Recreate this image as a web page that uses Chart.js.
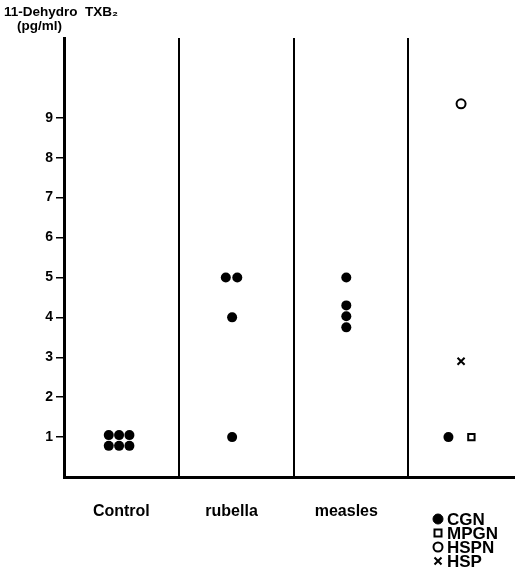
<!DOCTYPE html>
<html>
<head>
<meta charset="utf-8">
<script src="https://cdn.jsdelivr.net/npm/chart.js@4/dist/chart.umd.min.js"></script>
<style>
html,body{margin:0;padding:0;background:#fff;}
#wrap{width:515px;height:573px;position:relative;}
</style>
</head>
<body>
<div id="wrap"><canvas id="c" width="515" height="573"></canvas></div>
<script>
// ---- data ----
const categories = ['Control', 'rubella', 'measles', ''];
const yTicks = [1, 2, 3, 4, 5, 6, 7, 8, 9];
const yMax = 11;

const controlCGN = [1.05, 1.05, 1.05, 0.78, 0.78, 0.78];
const rubellaCGN = [5.0, 5.0, 4.0, 1.0];
const measlesCGN = [5.0, 4.3, 4.03, 3.75];
const nephritisCGN = [1.0];
const nephritisMPGN = [1.0];
const nephritisHSPN = [9.35];
const nephritisHSP = [2.9];

// horizontal offsets of the dots inside their group (jitter)
const controlOffsets = [-0.11, -0.02, 0.07, -0.11, -0.02, 0.07];
const rubellaOffsets = [-0.09, 0.01, -0.035, -0.035];
const measlesOffsets = [-0.04, -0.04, -0.04, -0.04];
const nephritisCGNOffsets = [-0.15];
const nephritisMPGNOffsets = [0.05];
const nephritisHSPNOffsets = [-0.04];
const nephritisHSPOffsets = [-0.04];

const legendLabels = ['CGN', 'MPGN', 'HSPN', 'HSP'];

function pts(groupIndex, values, offsets) {
  return values.map((v, i) => ({ x: groupIndex + 0.5 + offsets[i], y: v }));
}

const cgnData = []
  .concat(pts(0, controlCGN, controlOffsets))
  .concat(pts(1, rubellaCGN, rubellaOffsets))
  .concat(pts(2, measlesCGN, measlesOffsets))
  .concat(pts(3, nephritisCGN, nephritisCGNOffsets));

const FONT = '"Liberation Sans", Arial, Helvetica, sans-serif';
const labelShift = [0, -0.04, -0.04];

const markerStyles = [
  { pointStyle: 'circle', radius: 5, fill: '#000', lw: 1 },
  { pointStyle: 'rect', radius: 4.5, fill: '#fff', lw: 2 },
  { pointStyle: 'circle', radius: 4.5, fill: '#fff', lw: 2 },
  { pointStyle: 'crossRot', radius: 5, fill: '#000', lw: 2 }
];

const textPlugin = {
  id: 'textPlugin',
  afterDraw(chart) {
    const ctx = chart.ctx;
    ctx.save();
    ctx.fillStyle = '#000';
    ctx.textBaseline = 'middle';
    ctx.textAlign = 'left';
    ctx.font = 'bold 13.5px ' + FONT;
    ctx.fillText('11-Dehydro  TXB\u2082', 4, 12);
    ctx.fillText('(pg/ml)', 17, 26);
    // legend
    ctx.font = 'bold 17px ' + FONT;
    const lx = 438, ly0 = 519, dy = 14;
    legendLabels.forEach((lab, i) => {
      const y = ly0 + i * dy;
      const m = markerStyles[i];
      ctx.fillStyle = m.fill;
      ctx.strokeStyle = '#000';
      ctx.lineWidth = m.lw;
      ctx.beginPath();
      if (m.pointStyle === 'circle') {
        ctx.arc(lx, y, m.radius, 0, Math.PI * 2);
        ctx.fill(); ctx.stroke();
      } else if (m.pointStyle === 'rect') {
        ctx.rect(lx - 3.5, y - 3.5, 7, 7);
        ctx.fill(); ctx.stroke();
      } else {
        ctx.moveTo(lx - 3.5, y - 3.5); ctx.lineTo(lx + 3.5, y + 3.5);
        ctx.moveTo(lx + 3.5, y - 3.5); ctx.lineTo(lx - 3.5, y + 3.5);
        ctx.stroke();
      }
      ctx.fillStyle = '#000';
      ctx.fillText(lab, lx + 9, y + 1);
    });
    ctx.restore();
  }
};

new Chart(document.getElementById('c'), {
  type: 'scatter',
  data: {
    datasets: [
      { label: 'CGN', data: cgnData, pointStyle: 'circle', pointRadius: 5,
        backgroundColor: '#000', borderColor: '#000', borderWidth: 0 },
      { label: 'MPGN', data: pts(3, nephritisMPGN, nephritisMPGNOffsets), pointStyle: 'rect', pointRadius: 4.5,
        backgroundColor: '#fff', borderColor: '#000', borderWidth: 2 },
      { label: 'HSPN', data: pts(3, nephritisHSPN, nephritisHSPNOffsets), pointStyle: 'circle', pointRadius: 4.5,
        backgroundColor: '#fff', borderColor: '#000', borderWidth: 2 },
      { label: 'HSP', data: pts(3, nephritisHSP, nephritisHSPOffsets), pointStyle: 'crossRot', pointRadius: 5,
        backgroundColor: '#000', borderColor: '#000', borderWidth: 2 }
    ]
  },
  options: {
    responsive: false,
    animation: false,
    layout: { autoPadding: false, padding: { top: 38, right: 0, left: 0, bottom: 0 } },
    plugins: { legend: { display: false }, tooltip: { enabled: false } },
    scales: {
      x: {
        type: 'linear', min: 0, max: 3.93,
        afterBuildTicks: (s) => { s.ticks = [0, 1, 2].map(i => ({ value: i + 0.5 + labelShift[i] })); },
        afterFit: (s) => { s.height = 96; },
        ticks: {
          callback: (v) => categories[Math.floor(v)],
          color: '#000', font: { family: FONT, size: 16, weight: 'bold' }, padding: 17,
          maxRotation: 0, autoSkip: false
        },
        grid: { display: false },
        border: { display: true, color: '#000', width: 3 }
      },
      xSep: {
        type: 'linear', position: 'bottom', min: 0, max: 3.93,
        afterBuildTicks: (s) => { s.ticks = [1, 2, 3].map(v => ({ value: v })); },
        afterFit: (s) => { s.height = 0; },
        ticks: { display: false },
        grid: { display: true, color: '#000', lineWidth: 2, drawTicks: false },
        border: { display: false }
      },
      y: {
        type: 'linear', min: 0, max: yMax,
        afterBuildTicks: (s) => { s.ticks = yTicks.map(v => ({ value: v })); },
        afterFit: (s) => { s.width = 64; },
        ticks: { color: '#000', font: { family: FONT, size: 14, weight: 'bold' }, padding: 3 },
        grid: { drawOnChartArea: false, drawTicks: true, tickLength: 8, color: '#000', lineWidth: 1.5 },
        border: { display: true, color: '#000', width: 3 }
      }
    }
  },
  plugins: [textPlugin]
});
</script>
</body>
</html>
